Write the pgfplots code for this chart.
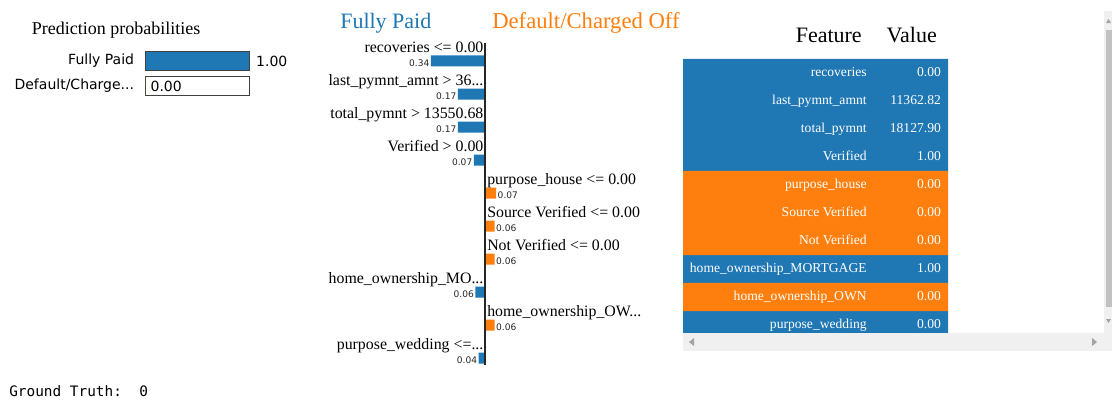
\documentclass[border=0pt]{standalone}
\usepackage{fontspec}
\setmainfont{Liberation Serif}
\setsansfont{DejaVu Sans}
\setmonofont{DejaVu Sans Mono}
\usepackage{pgfplots}
\pgfplotsset{compat=1.18}
\definecolor{limeblue}{HTML}{1F77B4}
\definecolor{limeorange}{HTML}{FF7F0E}
\definecolor{sbtrack}{HTML}{F0F0F0}
\definecolor{sbthumb}{HTML}{C1C1C1}
\definecolor{sbarrow}{HTML}{A3A3A3}
\newcommand{\fs}[1]{\fontsize{#1}{#1}\selectfont}
\newcommand{\num}[1]{\pgfmathprintnumber[fixed,fixed zerofill,precision=2,assume math mode=true]{#1}}

\begin{document}
\begin{tikzpicture}[x=0.75pt,y=-0.75pt,every node/.append style={inner sep=0pt}]
\useasboundingbox[fill=white] (0,0) rectangle (1112,400);

% ---- prediction probabilities
\node[anchor=base] at (116,34) {\fs{13.5}Prediction probabilities};
\coordinate (probNW) at (145,48.5);
\begin{axis}[at={(probNW)}, anchor=north west, scale only axis,
    width=78pt, height=37.5pt, xmin=0, xmax=1, ymin=-0.5, ymax=1.5,
    y dir=reverse, hide axis, clip=false]
\addplot[xbar, bar shift=0pt, bar width=14.25pt, fill=white, draw=black!75, line width=0.75pt]
    coordinates {(1,0) (1,1)};
\addplot[xbar, bar shift=0pt, bar width=14.25pt, fill=limeblue, draw=black!75, line width=0.75pt,
    point meta=x,
    nodes near coords={\sffamily\fs{10.5}\num{\pgfplotspointmeta}},
    nodes near coords align={anchor=west},
    every node near coord/.append style={anchor=west, xshift=5pt, text=black}]
    coordinates {(1.00,0)};
\addplot[xbar, bar shift=0pt, bar width=14.25pt, fill=limeorange, draw=none,
    point meta=x,
    nodes near coords={\sffamily\fs{10.5}\num{\pgfplotspointmeta}},
    nodes near coords align={anchor=west},
    every node near coord/.append style={anchor=west, xshift=4pt, text=black}]
    coordinates {(0.00,1)};
\node[anchor=east, xshift=-8pt, font=\sffamily\fs{10.5}] at (axis cs:0,0) {Fully Paid};
\node[anchor=east, xshift=-8pt, font=\sffamily\fs{10.5}] at (axis cs:0,1) {Default/Charge...};
\end{axis}

% ---- explanation
\node[anchor=base west, text=limeblue] at (340,28) {\fs{16.5}Fully Paid};
\node[anchor=base west, text=limeorange] at (492,28) {\fs{17}Default/Charged Off};
\coordinate (explNW) at (326,43);
\begin{axis}[at={(explNW)}, anchor=north west, scale only axis,
    width=238.5pt, height=241.5pt, xmin=-1, xmax=1, ymin=-0.545, ymax=9.21,
    y dir=reverse, hide axis, clip=false]
\addplot[xbar, bar shift=0pt, bar width=8.25pt, fill=limeblue, draw=none,
    point meta=explicit,
    nodes near coords={\sffamily\fs{6.8}\num{\pgfplotspointmeta}},
    nodes near coords align={anchor=east},
    every node near coord/.append style={anchor=east, xshift=-1pt, yshift=-1.5pt, text=black!85}]
    coordinates {(-0.34,0) [0.34] (-0.17,1) [0.17] (-0.17,2) [0.17] (-0.07,3) [0.07]
                 (-0.06,7) [0.06] (-0.04,9) [0.04]};
\addplot[xbar, bar shift=0pt, bar width=8.25pt, fill=limeorange, draw=none,
    point meta=explicit,
    nodes near coords={\sffamily\fs{6.8}\num{\pgfplotspointmeta}},
    nodes near coords align={anchor=west},
    every node near coord/.append style={anchor=west, xshift=1pt, yshift=-1.5pt, text=black!85}]
    coordinates {(0.07,4) [0.07] (0.06,5) [0.06] (0.06,6) [0.06] (0.06,8) [0.06]};
\addplot[draw=black!85, line width=1.8pt] coordinates {(0,-0.545) (0,9.21)};
\begin{scope}[font=\fs{11.9}]
\node[anchor=base east, xshift=-1pt] at (axis cs:0,-0.27) {recoveries <= 0.00};
\node[anchor=base east, xshift=-1pt] at (axis cs:0,0.73) {last\_pymnt\_amnt > 36...};
\node[anchor=base east, xshift=-1pt] at (axis cs:0,1.73) {total\_pymnt > 13550.68};
\node[anchor=base east, xshift=-1pt] at (axis cs:0,2.73) {Verified > 0.00};
\node[anchor=base west, xshift=1.5pt] at (axis cs:0,3.73) {purpose\_house <= 0.00};
\node[anchor=base west, xshift=1.5pt] at (axis cs:0,4.73) {Source Verified <= 0.00};
\node[anchor=base west, xshift=1.5pt] at (axis cs:0,5.73) {Not Verified <= 0.00};
\node[anchor=base east, xshift=-1pt] at (axis cs:0,6.73) {home\_ownership\_MO...};
\node[anchor=base west, xshift=1.5pt] at (axis cs:0,7.73) {home\_ownership\_OW...};
\node[anchor=base east, xshift=-1pt] at (axis cs:0,8.73) {purpose\_wedding <=...};
\end{scope}
\end{axis}

% ---- feature / value table
\node[anchor=base east] at (862,42) {\fs{16.5}Feature};
\node[anchor=base east] at (937,42) {\fs{16.5}Value};
\coordinate (tabNW) at (683,59);
\begin{axis}[at={(tabNW)}, anchor=north west, scale only axis,
    width=198.75pt, height=210pt, xmin=0, xmax=1, ymin=-0.5, ymax=9.5,
    y dir=reverse, hide axis, clip=false]
\addplot[xbar, bar shift=0pt, bar width=21.3pt, fill=limeblue, draw=none]
    coordinates {(1,0) (1,1) (1,2) (1,3) (1,7) (1,9)};
\addplot[xbar, bar shift=0pt, bar width=21.3pt, fill=limeorange, draw=none]
    coordinates {(1,4) (1,5) (1,6) (1,8)};
\begin{scope}[font=\fs{10.2}, text=white]
\node[anchor=base east] at (axis cs:0.694,0.14) {recoveries};
\node[anchor=base east] at (axis cs:0.974,0.14) {0.00};
\node[anchor=base east] at (axis cs:0.694,1.14) {last\_pymnt\_amnt};
\node[anchor=base east] at (axis cs:0.974,1.14) {11362.82};
\node[anchor=base east] at (axis cs:0.694,2.14) {total\_pymnt};
\node[anchor=base east] at (axis cs:0.974,2.14) {18127.90};
\node[anchor=base east] at (axis cs:0.694,3.14) {Verified};
\node[anchor=base east] at (axis cs:0.974,3.14) {1.00};
\node[anchor=base east] at (axis cs:0.694,4.14) {purpose\_house};
\node[anchor=base east] at (axis cs:0.974,4.14) {0.00};
\node[anchor=base east] at (axis cs:0.694,5.14) {Source Verified};
\node[anchor=base east] at (axis cs:0.974,5.14) {0.00};
\node[anchor=base east] at (axis cs:0.694,6.14) {Not Verified};
\node[anchor=base east] at (axis cs:0.974,6.14) {0.00};
\node[anchor=base east] at (axis cs:0.694,7.14) {home\_ownership\_MORTGAGE};
\node[anchor=base east] at (axis cs:0.974,7.14) {1.00};
\node[anchor=base east] at (axis cs:0.694,8.14) {home\_ownership\_OWN};
\node[anchor=base east] at (axis cs:0.974,8.14) {0.00};
\node[anchor=base east] at (axis cs:0.694,9.14) {purpose\_wedding};
\node[anchor=base east] at (axis cs:0.974,9.14) {0.00};
\end{scope}
\end{axis}

% scrollbars of the table frame
\fill[sbtrack] (683,333) rectangle (1104,351);
\fill[sbtrack] (1104,11) rectangle (1112,351);
\fill[sbthumb] (1106,30) rectangle (1112,307);
\fill[sbarrow] (689,342) -- (694,338) -- (694,346) -- cycle;
\fill[sbarrow] (1097,342) -- (1092,338) -- (1092,346) -- cycle;
\fill[sbarrow] (1108.5,19) -- (1111,23) -- (1106,23) -- cycle;
\fill[sbarrow] (1108.5,323) -- (1111,319) -- (1106,319) -- cycle;

% ---- ground truth
\node[anchor=base west] at (9,396) {\ttfamily\fs{10.8}Ground Truth:\ \ 0};
\end{tikzpicture}
\end{document}
